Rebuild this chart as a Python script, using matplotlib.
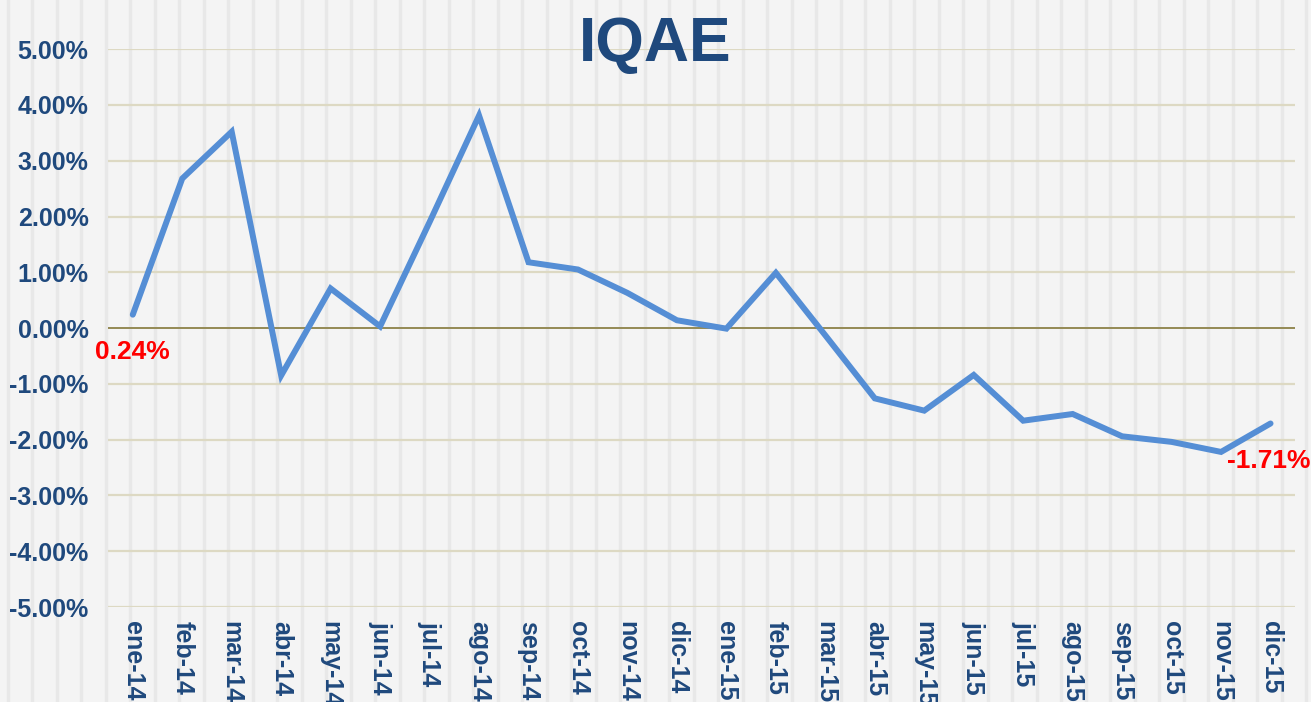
import matplotlib
matplotlib.use("Agg")
import matplotlib.pyplot as plt
from matplotlib.lines import Line2D
from matplotlib.ticker import FuncFormatter
import numpy as np

# ── data ──────────────────────────────────────────────────────────────────────
months = ["ene-14", "feb-14", "mar-14", "abr-14", "may-14", "jun-14",
          "jul-14", "ago-14", "sep-14", "oct-14", "nov-14", "dic-14",
          "ene-15", "feb-15", "mar-15", "abr-15", "may-15", "jun-15",
          "jul-15", "ago-15", "sep-15", "oct-15", "nov-15", "dic-15"]
iqae = [0.24, 2.68, 3.52, -0.85, 0.71, 0.03,
        1.90, 3.81, 1.18, 1.05, 0.63, 0.14,
        -0.01, 0.99, -0.13, -1.26, -1.48, -0.84,
        -1.66, -1.54, -1.94, -2.04, -2.22, -1.71]
y_ticks = [-5, -4, -3, -2, -1, 0, 1, 2, 3, 4, 5]

# ── style ─────────────────────────────────────────────────────────────────────
NAVY = "#1F497D"
LINE = "#558ED5"
GRID = "#DDD9C3"
ZERO = "#948A54"
BG = "#F4F4F4"

plt.rcParams["font.family"] = ["Liberation Sans", "DejaVu Sans"]

fig = plt.figure(figsize=(13.11, 7.02), dpi=100, facecolor=BG)

# faint vertical texture of the background
for xf in np.arange(0.006, 1.0, 24.5 / 1311):
    fig.add_artist(Line2D([xf, xf], [0, 1], transform=fig.transFigure,
                          color="#E8E8E8", linewidth=2.5, zorder=-10))

ax = fig.add_axes([0.0824, 0.1353, 0.9056, 0.7947])
ax.patch.set_alpha(0)

x = np.arange(len(months))
ax.plot(x, iqae, color=LINE, linewidth=4.3, solid_joinstyle="miter",
        solid_capstyle="round", zorder=3)

ax.set_xlim(-0.5, len(months) - 0.5)
ax.set_ylim(-5, 5)
ax.set_yticks(y_ticks)
ax.yaxis.set_major_formatter(FuncFormatter(lambda v, _: f"{v:.2f}%"))
ax.set_xticks(x)
ax.set_xticklabels(months, rotation=-90, va="top", ha="center")

for v in y_ticks:
    if v != 0:
        ax.axhline(v, color=GRID, linewidth=1.6, zorder=1)
ax.axhline(0, color=ZERO, linewidth=1.4, zorder=2)

for s in ax.spines.values():
    s.set_visible(False)
ax.tick_params(axis="both", length=0, labelsize=18, labelcolor=NAVY)
ax.tick_params(axis="y", pad=14)
ax.tick_params(axis="x", pad=10)
for lbl in ax.get_xticklabels() + ax.get_yticklabels():
    lbl.set_fontweight("bold")

# value labels at the first and last points
ax.annotate(f"{iqae[0]:.2f}%", (x[0], iqae[0]), xytext=(-27, -27),
            textcoords="offset points", ha="left", va="center",
            color="red", fontsize=19, fontweight="bold")
ax.annotate(f"{iqae[-1]:.2f}%", (x[-1], iqae[-1]), xytext=(-31, -27),
            textcoords="offset points", ha="left", va="center",
            color="red", fontsize=19, fontweight="bold")

fig.text(0.4995, 0.937, "IQAE", ha="center", va="center", color=NAVY,
         fontsize=45, fontweight="bold")

fig.savefig("out.png", dpi=100, facecolor=BG)
